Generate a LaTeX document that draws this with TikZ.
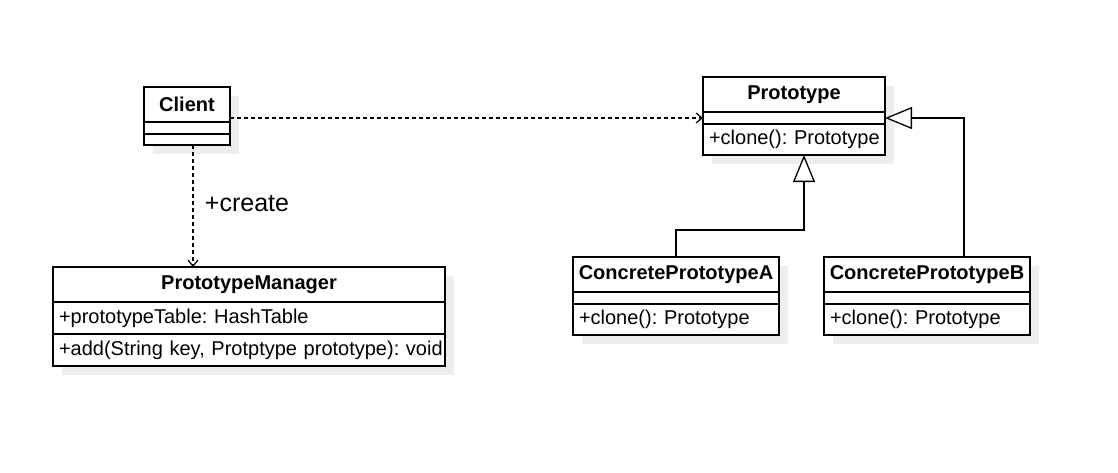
\documentclass[tikz,border=0pt]{standalone}
\usepackage{fontspec}
\setmainfont{Liberation Sans}
\usepackage{tikz}
\usetikzlibrary{arrows.meta,shadows}
\frenchspacing

\tikzset{
  box/.style={draw, line width=1.3pt, fill=white, inner sep=0pt, outer sep=0pt,
    anchor=north west,
    drop shadow={shadow xshift=9pt, shadow yshift=-9pt, fill=black!7, opacity=1}},
  ttl/.style={box, minimum height=35pt, font=\bfseries\fontsize{20}{24}\selectfont},
  cmp/.style={box},
  mthd/.style={box, inner xsep=6pt, align=left, font=\fontsize{20}{24}\selectfont},
  dep/.style={line width=1.3pt, dash pattern=on 4pt off 3pt,
    -{Straight Barb[length=6pt,width=10pt,line width=1.2pt]}},
  inh/.style={line width=1.3pt, -{Triangle[length=27pt,width=22pt,fill=white]}}
}

\begin{document}
\begin{tikzpicture}[x=1pt,y=-1pt]
\useasboundingbox (0,0) rectangle (1118,472);

% draw classes
\node[ttl, minimum width=86pt] (client) at (144,87) {Client};
\node[cmp, minimum width=86pt, minimum height=12pt] (client-attr) at (client.south west) {};
\node[cmp, minimum width=86pt, minimum height=11pt] (client-mth) at (client-attr.south west) {};

\node[ttl, minimum width=182pt] (proto) at (703,77) {Prototype};
\node[cmp, minimum width=182pt, minimum height=12pt] (proto-attr) at (proto.south west) {};
\node[mthd, text width=170pt, minimum height=31pt] (proto-mth) at (proto-attr.south west) {\mbox{+clone(): Prototype}};

\node[ttl, minimum width=392pt] (mgr) at (53,267) {PrototypeManager};
\node[mthd, text width=380pt, minimum height=32pt] (mgr-attr) at (mgr.south west) {\mbox{+prototypeTable: HashTable}};
\node[mthd, text width=380pt, minimum height=32pt] (mgr-mth) at (mgr-attr.south west) {\mbox{+add(String key, Protptype prototype): void}};

\foreach \n/\x in {A/573, B/824}
{
\node[ttl, minimum width=206pt] (con\n) at (\x,257) {ConcretePrototype\n};
\node[cmp, minimum width=206pt, minimum height=12pt] (con\n-attr) at (con\n.south west) {};
\node[mthd, text width=194pt, minimum height=31pt] (con\n-mth) at (con\n-attr.south west) {\mbox{+clone(): Prototype}};
}

% draw relations
\draw[dep] (client.east |- proto-attr.west) -- (proto-attr.west);

\coordinate (cr) at ([xshift=6pt]client-mth.south);
\draw[dep] (cr) -- (cr |- mgr.north)
  node[midway, anchor=west, xshift=8pt, yshift=2pt, font=\fontsize{25}{30}\selectfont] {+create};

\coordinate (pt) at ([xshift=10pt]proto-mth.south);
\draw[inh] (conA.north) -- ++(0,-27) -| (pt);

\coordinate (bt) at ([xshift=37pt]conB.north);
\draw[inh] (bt) |- (proto-attr.east);

\end{tikzpicture}
\end{document}
